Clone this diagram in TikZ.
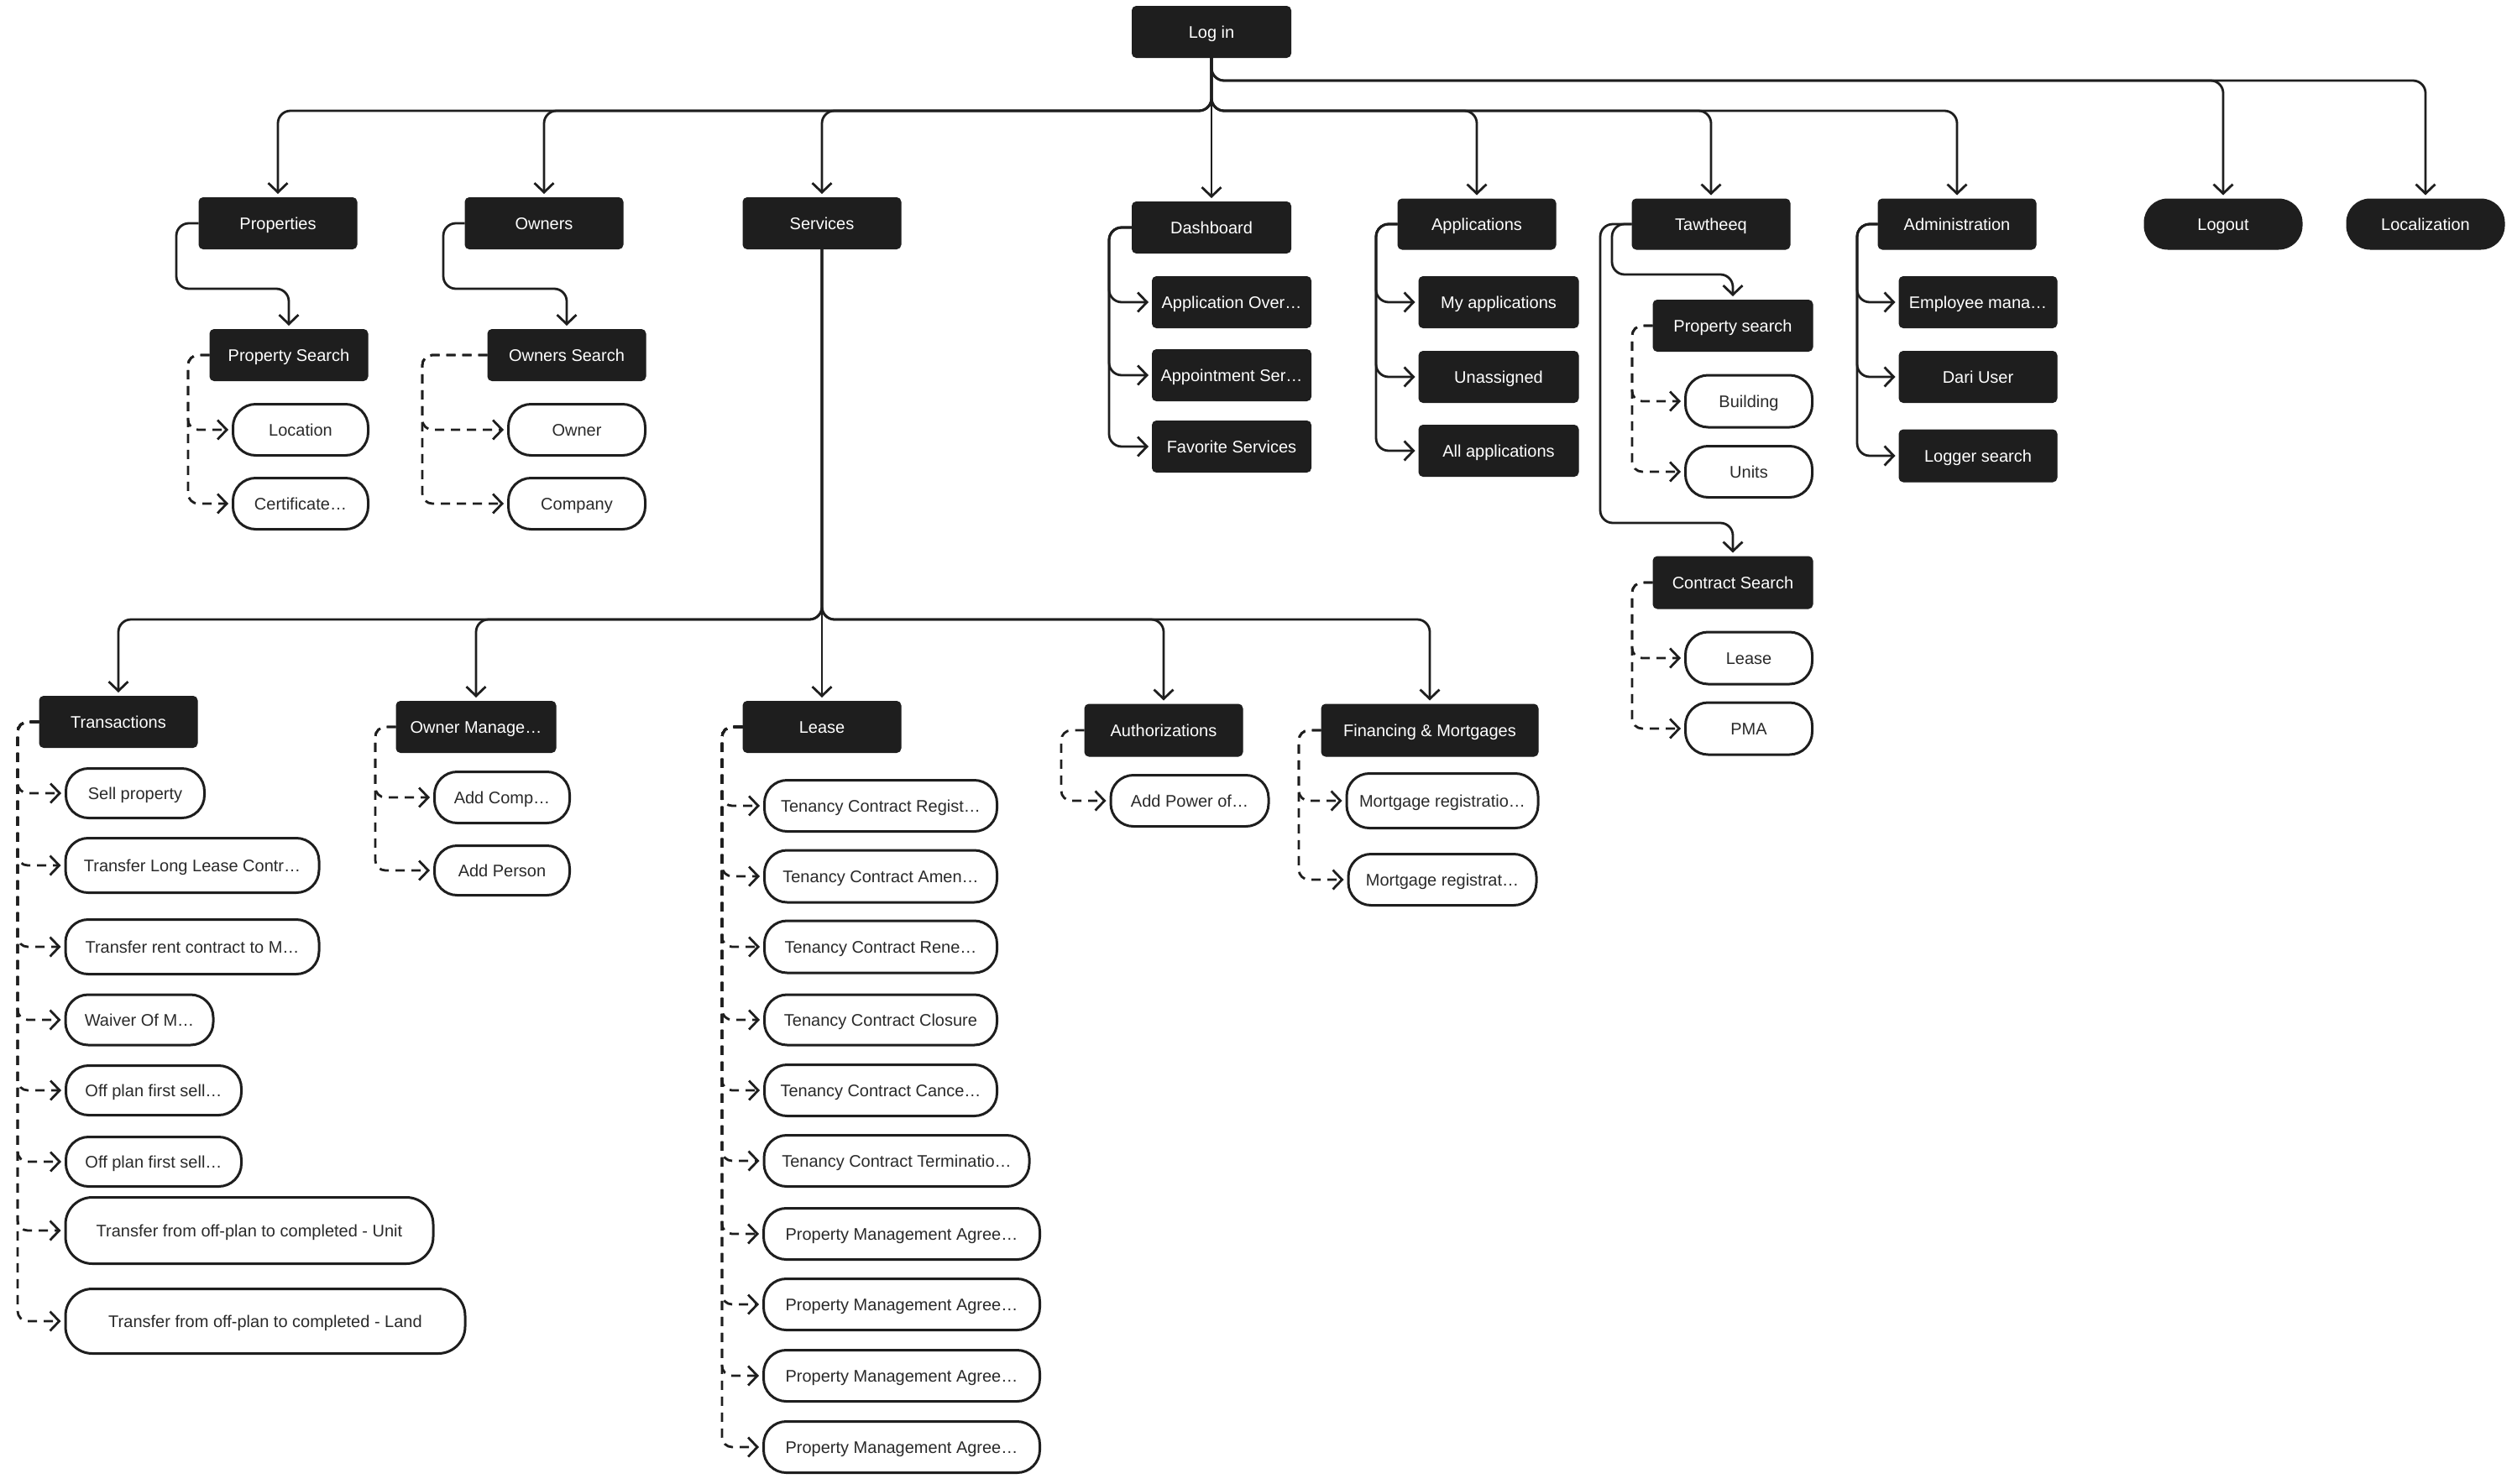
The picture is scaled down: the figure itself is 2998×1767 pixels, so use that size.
\documentclass[tikz,border=0pt]{standalone}
\usepackage{fontspec}
\setmainfont{Liberation Sans}
\usetikzlibrary{arrows.meta}
\definecolor{boxdark}{HTML}{1E1E1E}
\definecolor{linedark}{HTML}{1E1E1E}
\definecolor{txtdark}{HTML}{2A2A2A}
\tikzset{
  dbox/.style={fill=boxdark, draw=boxdark, line width=1pt, rounded corners=5pt, text=white, inner sep=0pt,
    font=\fontsize{20}{23}\selectfont, text height=17pt, text depth=3pt,
    minimum width=188pt, minimum height=61pt},
  dpill/.style={dbox, rounded corners=28pt},
  wpill/.style={fill=white, draw=linedark, line width=3pt, rounded corners=27pt, text=txtdark, inner sep=0pt,
    font=\fontsize{20}{23}\selectfont, text height=17pt, text depth=3pt, minimum height=61pt},
  conn/.style={draw=linedark, line width=2.8pt, rounded corners=15pt, shorten >=4pt,
    -{Straight Barb[length=11pt,width=23pt,line width=2.8pt]}},
  dconn/.style={conn, rounded corners=12pt, dash pattern=on 11pt off 8pt},
}
\begin{document}
\begin{tikzpicture}[x=1pt,y=-1pt]
\useasboundingbox (0,0) rectangle (2998,1767);
% ---------------- top level ----------------
\node[dbox, minimum width=189] (login) at (1443,38) {Log in};
\node[dbox] (properties) at (331,266) {Properties};
\node[dbox] (owners) at (648,266) {Owners};
\node[dbox] (services) at (979,266) {Services};
\node[dbox, minimum width=189] (dashboard) at (1443,271) {Dashboard};
\node[dbox, minimum height=60] (applications) at (1759,267) {Applications};
\node[dbox, minimum height=60] (tawtheeq) at (2038,267) {Tawtheeq};
\node[dbox, minimum height=60] (administration) at (2331,267) {Administration};
\node[dpill, minimum height=60] (logout) at (2648,267) {Logout};
\node[dpill, minimum height=60] (localization) at (2889,267) {Localization};
% ---------------- properties / owners ----------------
\node[dbox] (propsearch) at (344,423) {Property Search};
\node[wpill, minimum width=161] (location) at (358,512) {Location};
\node[wpill, minimum width=161] (certificate) at (358,600) {Certificate…};
\node[dbox] (ownsearch) at (675,423) {Owners Search};
\node[wpill, minimum width=163] (owner) at (687,512) {Owner};
\node[wpill, minimum width=163] (company) at (687,600) {Company};
% ---------------- dashboard ----------------
\node[dbox, minimum width=189] (appover) at (1467,360) {Application Over…};
\node[dbox, minimum width=189] (appoint) at (1467,447) {Appointment Ser…};
\node[dbox, minimum width=189] (favserv) at (1467,532) {Favorite Services};
% ---------------- applications ----------------
\node[dbox, minimum width=190] (myapps) at (1785,360) {My applications};
\node[dbox, minimum width=190] (unassigned) at (1785,449) {Unassigned};
\node[dbox, minimum width=190] (allapps) at (1785,537) {All applications};
% ---------------- tawtheeq ----------------
\node[dbox, minimum width=190] (twpsearch) at (2064,388) {Property search};
\node[wpill, minimum width=151, minimum height=62] (building) at (2083,478) {Building};
\node[wpill, minimum width=151] (units) at (2083,562) {Units};
\node[dbox, minimum width=190, minimum height=62] (contsearch) at (2064,694) {Contract Search};
\node[wpill, minimum width=151, minimum height=62] (tlease) at (2083,784) {Lease};
\node[wpill, minimum width=151, minimum height=62] (pma) at (2083,868) {PMA};
% ---------------- administration ----------------
\node[dbox] (empmgmt) at (2356,360) {Employee mana…};
\node[dbox] (dariuser) at (2356,449) {Dari User};
\node[dbox, minimum height=62] (logger) at (2356,543) {Logger search};
% ---------------- services level ----------------
\node[dbox] (transactions) at (141,860) {Transactions};
\node[dbox, minimum width=190] (ownmanage) at (567,866) {Owner Manage…};
\node[dbox] (lease) at (979,866) {Lease};
\node[dbox, minimum height=62] (auth) at (1386,870) {Authorizations};
\node[dbox, minimum width=258, minimum height=62] (financing) at (1703,870) {Financing \& Mortgages};
% transactions children
\node[wpill, minimum width=165, minimum height=59] (sell) at (161,945) {Sell property};
\node[wpill, minimum width=302, minimum height=65] (tlong) at (229,1031) {Transfer Long Lease Contr…};
\node[wpill, minimum width=302, minimum height=65] (trent) at (229,1128) {Transfer rent contract to M…};
\node[wpill, minimum width=176, minimum height=60] (waiver) at (166,1215) {Waiver Of M…};
\node[wpill, minimum width=209, minimum height=59] (offplana) at (183,1299) {Off plan first sell…};
\node[wpill, minimum width=209, minimum height=59] (offplanb) at (183,1384) {Off plan first sell…};
\node[wpill, minimum width=438, minimum height=79, rounded corners=32pt] (tunit) at (297,1466) {Transfer from off-plan to completed - Unit};
\node[wpill, minimum width=476, minimum height=77, rounded corners=32pt] (tland) at (316,1574) {Transfer from off-plan to completed - Land};
% owner manage children
\node[wpill, minimum width=161] (addcomp) at (598,950) {Add Comp…};
\node[wpill, minimum width=161, minimum height=59] (addperson) at (598,1037) {Add Person};
% lease children
\node[wpill, minimum width=277] (tca) at (1049,960) {Tenancy Contract Regist…};
\node[wpill, minimum width=277, minimum height=62] (tcb) at (1049,1044) {Tenancy Contract Amen…};
\node[wpill, minimum width=277, minimum height=62] (tcc) at (1049,1128) {Tenancy Contract Rene…};
\node[wpill, minimum width=277, minimum height=60] (tcd) at (1049,1215) {Tenancy Contract Closure};
\node[wpill, minimum width=277] (tce) at (1049,1299) {Tenancy Contract Cance…};
\node[wpill, minimum width=316] (tcf) at (1068,1383) {Tenancy Contract Terminatio…};
\node[wpill, minimum width=329] (pma1) at (1074,1470) {Property Management Agree…};
\node[wpill, minimum width=329] (pma2) at (1074,1554) {Property Management Agree…};
\node[wpill, minimum width=329] (pma3) at (1074,1639) {Property Management Agree…};
\node[wpill, minimum width=329] (pma4) at (1074,1724) {Property Management Agree…};
% authorizations / financing children
\node[wpill, minimum width=188] (addpower) at (1417,954) {Add Power of…};
\node[wpill, minimum width=228, minimum height=65] (morta) at (1718,954) {Mortgage registratio…};
\node[wpill, minimum width=224] (mortb) at (1718,1048) {Mortgage registrat…};

% ---------------- helper coordinates ----------------
\coordinate (busa) at (0,96);
\coordinate (busb) at (0,132);
\coordinate (busc) at (0,738);
\coordinate (pj) at (210,344);
\coordinate (oj) at (528,344);
\coordinate (twa) at (1920,327);
\coordinate (twb) at (1906,623);
\coordinate (tps) at (224,0);
\coordinate (tos) at (503,0);
\coordinate (tdb) at (1321,0);
\coordinate (tap) at (1639,0);
\coordinate (ttw) at (1944,0);
\coordinate (tad) at (2212,0);
\coordinate (ttr) at (21,0);
\coordinate (tom) at (447,0);
\coordinate (tle) at (860,0);
\coordinate (tau) at (1264,0);
\coordinate (tfi) at (1547,0);

% ---------------- connectors from Log in ----------------
\foreach \n in {logout,localization}
  \draw[conn] (login.south) |- (\n.north |- busa) -- (\n.north);
\foreach \n in {properties,owners,services,applications,tawtheeq,administration}
  \draw[conn] (login.south) |- (\n.north |- busb) -- (\n.north);
\draw[conn] (login.south) -- (dashboard.north);

% properties / owners
\draw[conn] (properties.west) -| (pj) -| (propsearch.north);
\draw[conn] (owners.west) -| (oj) -| (ownsearch.north);
\foreach \n in {location,certificate}
  \draw[dconn] (propsearch.west) -| (tps |- \n.west) -- (\n.west);
\foreach \n in {owner,company}
  \draw[dconn] (ownsearch.west) -| (tos |- \n.west) -- (\n.west);

% dashboard / applications / administration
\foreach \n in {appover,appoint,favserv}
  \draw[conn] (dashboard.west) -| (tdb |- \n.west) -- (\n.west);
\foreach \n in {myapps,unassigned,allapps}
  \draw[conn] (applications.west) -| (tap |- \n.west) -- (\n.west);
\foreach \n in {empmgmt,dariuser,logger}
  \draw[conn] (administration.west) -| (tad |- \n.west) -- (\n.west);

% tawtheeq
\draw[conn] (tawtheeq.west) -| (twa) -| (twpsearch.north);
\draw[conn] (tawtheeq.west) -| (twb) -| (contsearch.north);
\foreach \n in {building,units}
  \draw[dconn] (twpsearch.west) -| (ttw |- \n.west) -- (\n.west);
\foreach \n in {tlease,pma}
  \draw[dconn] (contsearch.west) -| (ttw |- \n.west) -- (\n.west);

% services
\foreach \n in {transactions,ownmanage,auth,financing}
  \draw[conn] (services.south) |- (\n.north |- busc) -- (\n.north);
\draw[conn] (services.south) -- (lease.north);

\foreach \n in {sell,tlong,trent,waiver,offplana,offplanb,tunit,tland}
  \draw[dconn] (transactions.west) -| (ttr |- \n.west) -- (\n.west);
\foreach \n in {addcomp,addperson}
  \draw[dconn] (ownmanage.west) -| (tom |- \n.west) -- (\n.west);
\foreach \n in {tca,tcb,tcc,tcd,tce,tcf,pma1,pma2,pma3,pma4}
  \draw[dconn] (lease.west) -| (tle |- \n.west) -- (\n.west);
\draw[dconn] (auth.west) -| (tau |- addpower.west) -- (addpower.west);
\foreach \n in {morta,mortb}
  \draw[dconn] (financing.west) -| (tfi |- \n.west) -- (\n.west);
\end{tikzpicture}
\end{document}
